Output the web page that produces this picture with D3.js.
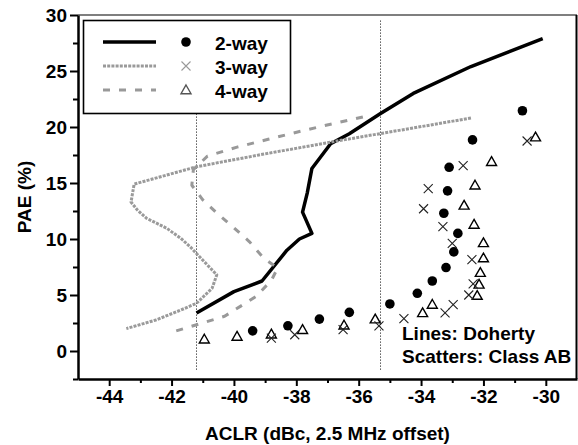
<!DOCTYPE html>
<html>
<head>
<meta charset="utf-8">
<script src="https://cdn.jsdelivr.net/npm/d3@7"></script>
<style>
  html, body { margin: 0; padding: 0; background: #fff; }
  text { font-family: "Liberation Sans", Arial, Helvetica, sans-serif; font-weight: bold; }
</style>
</head>
<body>
<svg id="chart" width="578" height="445"></svg>
<script>
// Doherty PAs (lines): [ACLR dBc, PAE %]
const doherty2 = [[-41.2,3.4],[-40.0,5.3],[-39.1,6.25],[-38.3,9.0],[-37.9,10.0],[-37.5,10.5],[-37.8,12.4],[-37.65,14.1],[-37.5,16.3],[-36.9,18.5],[-36.3,19.4],[-35.3,21.2],[-34.25,23.0],[-32.4,25.4],[-30.1,27.9]];
const doherty3 = [[-32.4,20.8],[-34.7,19.7],[-36.9,18.65],[-39.2,17.5],[-41.2,16.45],[-43.2,14.9],[-43.3,13.3],[-43.1,12.6],[-42.8,11.85],[-42.15,10.95],[-41.7,10.05],[-41.4,9.3],[-41.2,8.7],[-40.55,6.8],[-40.7,5.6],[-41.2,4.26],[-41.7,3.66],[-42.5,2.77],[-43.45,2.0]];
const doherty4 = [[-41.85,1.8],[-41.25,2.3],[-40.3,3.1],[-39.3,4.85],[-38.8,6.3],[-38.6,7.4],[-39.05,8.3],[-39.5,9.75],[-40.0,11.0],[-40.5,12.2],[-41.0,13.5],[-41.35,14.8],[-41.3,16.2],[-40.85,17.4],[-39.9,18.2],[-38.9,18.9],[-37.9,19.6],[-36.9,20.25],[-35.7,21.0]];

// Class AB PAs (scatters)
const classAB2 = [[-39.4,1.8],[-38.27,2.25],[-37.26,2.85],[-36.3,3.45],[-35.0,4.2],[-34.12,5.15],[-33.64,6.25],[-33.2,7.45],[-32.95,8.85],[-32.82,10.5],[-33.27,12.3],[-33.15,14.3],[-33.1,16.4],[-32.35,18.85],[-30.75,21.45]];
const classAB3 = [[-38.8,1.15],[-38.05,1.45],[-36.5,1.9],[-35.35,2.25],[-34.55,2.9],[-33.23,3.4],[-32.97,4.15],[-32.47,5.0],[-32.33,6.0],[-32.37,8.15],[-33.0,9.6],[-33.3,11.1],[-33.92,12.7],[-33.77,14.5],[-32.65,16.55],[-30.6,18.75]];
const classAB4 = [[-40.95,1.05],[-39.9,1.3],[-38.8,1.5],[-37.8,1.9],[-36.47,2.3],[-35.47,2.85],[-33.95,3.4],[-33.64,4.15],[-32.2,4.95],[-32.14,5.95],[-32.1,7.0],[-32.0,8.3],[-32.0,9.65],[-32.3,11.3],[-32.62,13.0],[-32.27,14.8],[-31.74,16.9],[-30.33,19.1]];

// ACLR limits (vertical reference lines)
const aclrLimits = [-41.2, -35.3];

const xMajor = [-44,-42,-40,-38,-36,-34,-32,-30];
const xMinor = [-43,-41,-39,-37,-35,-33,-31];
const yMajor = [0,5,10,15,20,25,30];
const yMinor = [-2.5,2.5,7.5,12.5,17.5,22.5,27.5];
const seriesNames = ["2-way","3-way","4-way"];

const svg = d3.select("#chart");
const x = d3.scaleLinear().domain([-45,-29]).range([78,577]);
const y = d3.scaleLinear().domain([-2.5,30]).range([379,15]);

// frame top/right
svg.append("line").attr("x1",x(-45)).attr("x2",x(-29)).attr("y1",y(30)).attr("y2",y(30))
  .attr("stroke","#000").attr("stroke-width",1.2);
svg.append("line").attr("x1",x(-29)-0.5).attr("x2",x(-29)-0.5).attr("y1",y(30)).attr("y2",y(-2.5))
  .attr("stroke","#000").attr("stroke-width",2);

// reference lines
svg.selectAll(".limit").data(aclrLimits).join("line")
  .attr("x1",d=>x(d)).attr("x2",d=>x(d)).attr("y1",y(29.5)).attr("y2",y(-1.7))
  .attr("stroke","#000").attr("stroke-width",1).attr("stroke-dasharray","1,2");

const line = d3.line().x(d=>x(d[0])).y(d=>y(d[1]));
const styles = [
  {stroke:"#000", width:3.5, dash:null},
  {stroke:"#9a9a9a", width:3, dash:"3,1.2"},
  {stroke:"#999", width:3, dash:"7,9"}
];
[doherty2, doherty3, doherty4].forEach((data,i)=>{
  svg.append("path").datum(data).attr("d",line)
    .attr("fill","none").attr("stroke",styles[i].stroke).attr("stroke-width",styles[i].width)
    .attr("stroke-dasharray",styles[i].dash).attr("stroke-linejoin","round");
});

// marker drawing helpers
function circleMark(g, cx, cy, fill){ g.append("circle").attr("cx",cx).attr("cy",cy).attr("r",4.8).attr("fill",fill); }
function crossMark(g, cx, cy, col){
  const s = 4.5;
  g.append("path").attr("d",`M${cx-s},${cy-s}L${cx+s},${cy+s}M${cx-s},${cy+s}L${cx+s},${cy-s}`)
    .attr("stroke",col).attr("stroke-width",1.1).attr("fill","none");
}
function triMark(g, cx, cy, col){
  const s = 5;
  g.append("path").attr("d",`M${cx},${cy-s}L${cx+s},${cy+s*0.75}L${cx-s},${cy+s*0.75}Z`)
    .attr("stroke",col).attr("stroke-width",1.4).attr("fill","none");
}

const marks = svg.append("g");
classAB4.forEach(d=>triMark(marks, x(d[0]), y(d[1]), "#000"));
classAB3.forEach(d=>crossMark(marks, x(d[0]), y(d[1]), "#222"));
classAB2.forEach(d=>circleMark(marks, x(d[0]), y(d[1]), "#000"));

// axes
const gx = svg.append("g").attr("transform",`translate(0,${y(-2.5)})`);
gx.call(d3.axisBottom(x).tickValues(xMajor).tickSize(7).tickSizeOuter(0).tickPadding(4).tickFormat(d3.format("d")));
const gxm = svg.append("g").attr("transform",`translate(0,${y(-2.5)})`);
gxm.call(d3.axisBottom(x).tickValues(xMinor).tickSize(4).tickSizeOuter(0).tickFormat(""));
gxm.select(".domain").remove();

const gy = svg.append("g").attr("transform",`translate(${x(-45)},0)`);
gy.call(d3.axisLeft(y).tickValues(yMajor).tickSize(8).tickSizeOuter(0).tickPadding(3).tickFormat(d3.format("d")));
const gym = svg.append("g").attr("transform",`translate(${x(-45)},0)`);
gym.call(d3.axisLeft(y).tickValues(yMinor).tickSize(5).tickSizeOuter(0).tickFormat(""));
gym.select(".domain").remove();

svg.selectAll(".domain").attr("stroke","#000").attr("stroke-width",2.5);
svg.selectAll(".tick line").attr("stroke","#000").attr("stroke-width",2);
svg.selectAll(".tick text").attr("fill","#000").style("font-size","19px").style("font-family","'Liberation Sans', Arial, sans-serif").style("font-weight","bold");
gx.selectAll(".tick text").text(d=>d3.format("d")(d).replace("−","-"));
gy.selectAll(".tick text").text(d=>d3.format("d")(d).replace("−","-"));

// axis titles
svg.append("text").attr("x",327.5).attr("y",440).attr("text-anchor","middle")
  .style("font-size","19px").text("ACLR (dBc, 2.5 MHz offset)");
svg.append("text").attr("transform","translate(31,197) rotate(-90)").attr("text-anchor","middle")
  .style("font-size","19px").text("PAE (%)");

// legend
const lg = svg.append("g");
lg.append("rect").attr("x",83.5).attr("y",20.5).attr("width",207).attr("height",93)
  .attr("fill","#fff").attr("stroke","#000").attr("stroke-width",1.6);
const legendY = [42, 66, 90];
seriesNames.forEach((name,i)=>{
  const ly = legendY[i];
  lg.append("line").attr("x1",103).attr("x2",156).attr("y1",ly).attr("y2",ly)
    .attr("stroke",styles[i].stroke).attr("stroke-width",styles[i].width).attr("stroke-dasharray",styles[i].dash);
  if(i===0) circleMark(lg,186,ly,"#000");
  if(i===1) crossMark(lg,186,ly,"#999");
  if(i===2) triMark(lg,186,ly,"#555");
  lg.append("text").attr("x",215).attr("y",ly+7.5).style("font-size","19px").text(name);
});

// annotation
svg.append("text").attr("x",402).attr("y",340).style("font-size","19px").text("Lines: Doherty");
svg.append("text").attr("x",402).attr("y",363).style("font-size","19px").text("Scatters: Class AB");
</script>
</body>
</html>
